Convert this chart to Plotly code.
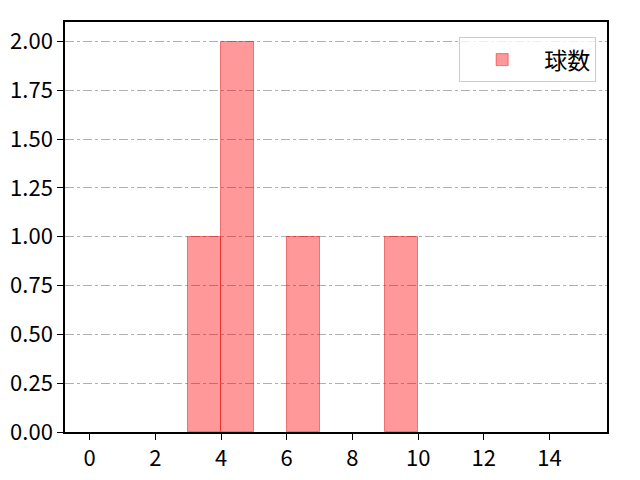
import plotly.graph_objects as go

# pitch counts per appearance
pitches = [3, 4, 4, 6, 9]
label = "球数"
bin_start = 0
bin_end = 15
bin_size = 1
xticks = [0, 2, 4, 6, 8, 10, 12, 14]
yticks = [0, 0.25, 0.5, 0.75, 1.0, 1.25, 1.5, 1.75, 2.0]

fig = go.Figure()
fig.add_trace(go.Histogram(
    x=pitches, name=label,
    xbins=dict(start=bin_start, end=bin_end, size=bin_size),
    marker=dict(color="rgba(255,0,0,0.4)", line=dict(color="rgba(230,0,0,0.45)", width=1)),
    showlegend=True,
))

font = "Noto Sans CJK JP"
tickfont = dict(family=font, size=22, color="black")
# page body has ~8px margin, so the figure is shifted; margins compensate
fig.update_layout(
    width=640, height=480,
    margin=dict(l=57, r=41, t=14, b=56, autoexpand=False),
    plot_bgcolor="white", paper_bgcolor="white",
    bargap=0,
    font=dict(family=font, size=22, color="black"),
    legend=dict(x=0.98, y=0.963, xanchor="right", yanchor="top",
                bordercolor="#cccccc", borderwidth=1, bgcolor="rgba(255,255,255,0.8)",
                font=dict(family=font, size=23), itemwidth=74),
    showlegend=True,
)
fig.update_xaxes(range=[bin_start - 0.75, bin_end + 0.75], tickvals=xticks, automargin=False,
                 tickfont=tickfont,
                 showgrid=False, zeroline=False, showline=True, linecolor="black",
                 linewidth=1.5, mirror=True, ticks="outside", ticklen=6, tickcolor="black")
fig.update_yaxes(range=[0, 2.1], tickvals=yticks, tickformat=".2f", automargin=False,
                 tickfont=tickfont,
                 showgrid=True, gridcolor="#b0b0b0", griddash="dashdot", gridwidth=1,
                 zeroline=False, showline=True, linecolor="black",
                 linewidth=1.5, mirror=True, ticks="outside", ticklen=6, tickcolor="black")

fig.write_html("out.html")
